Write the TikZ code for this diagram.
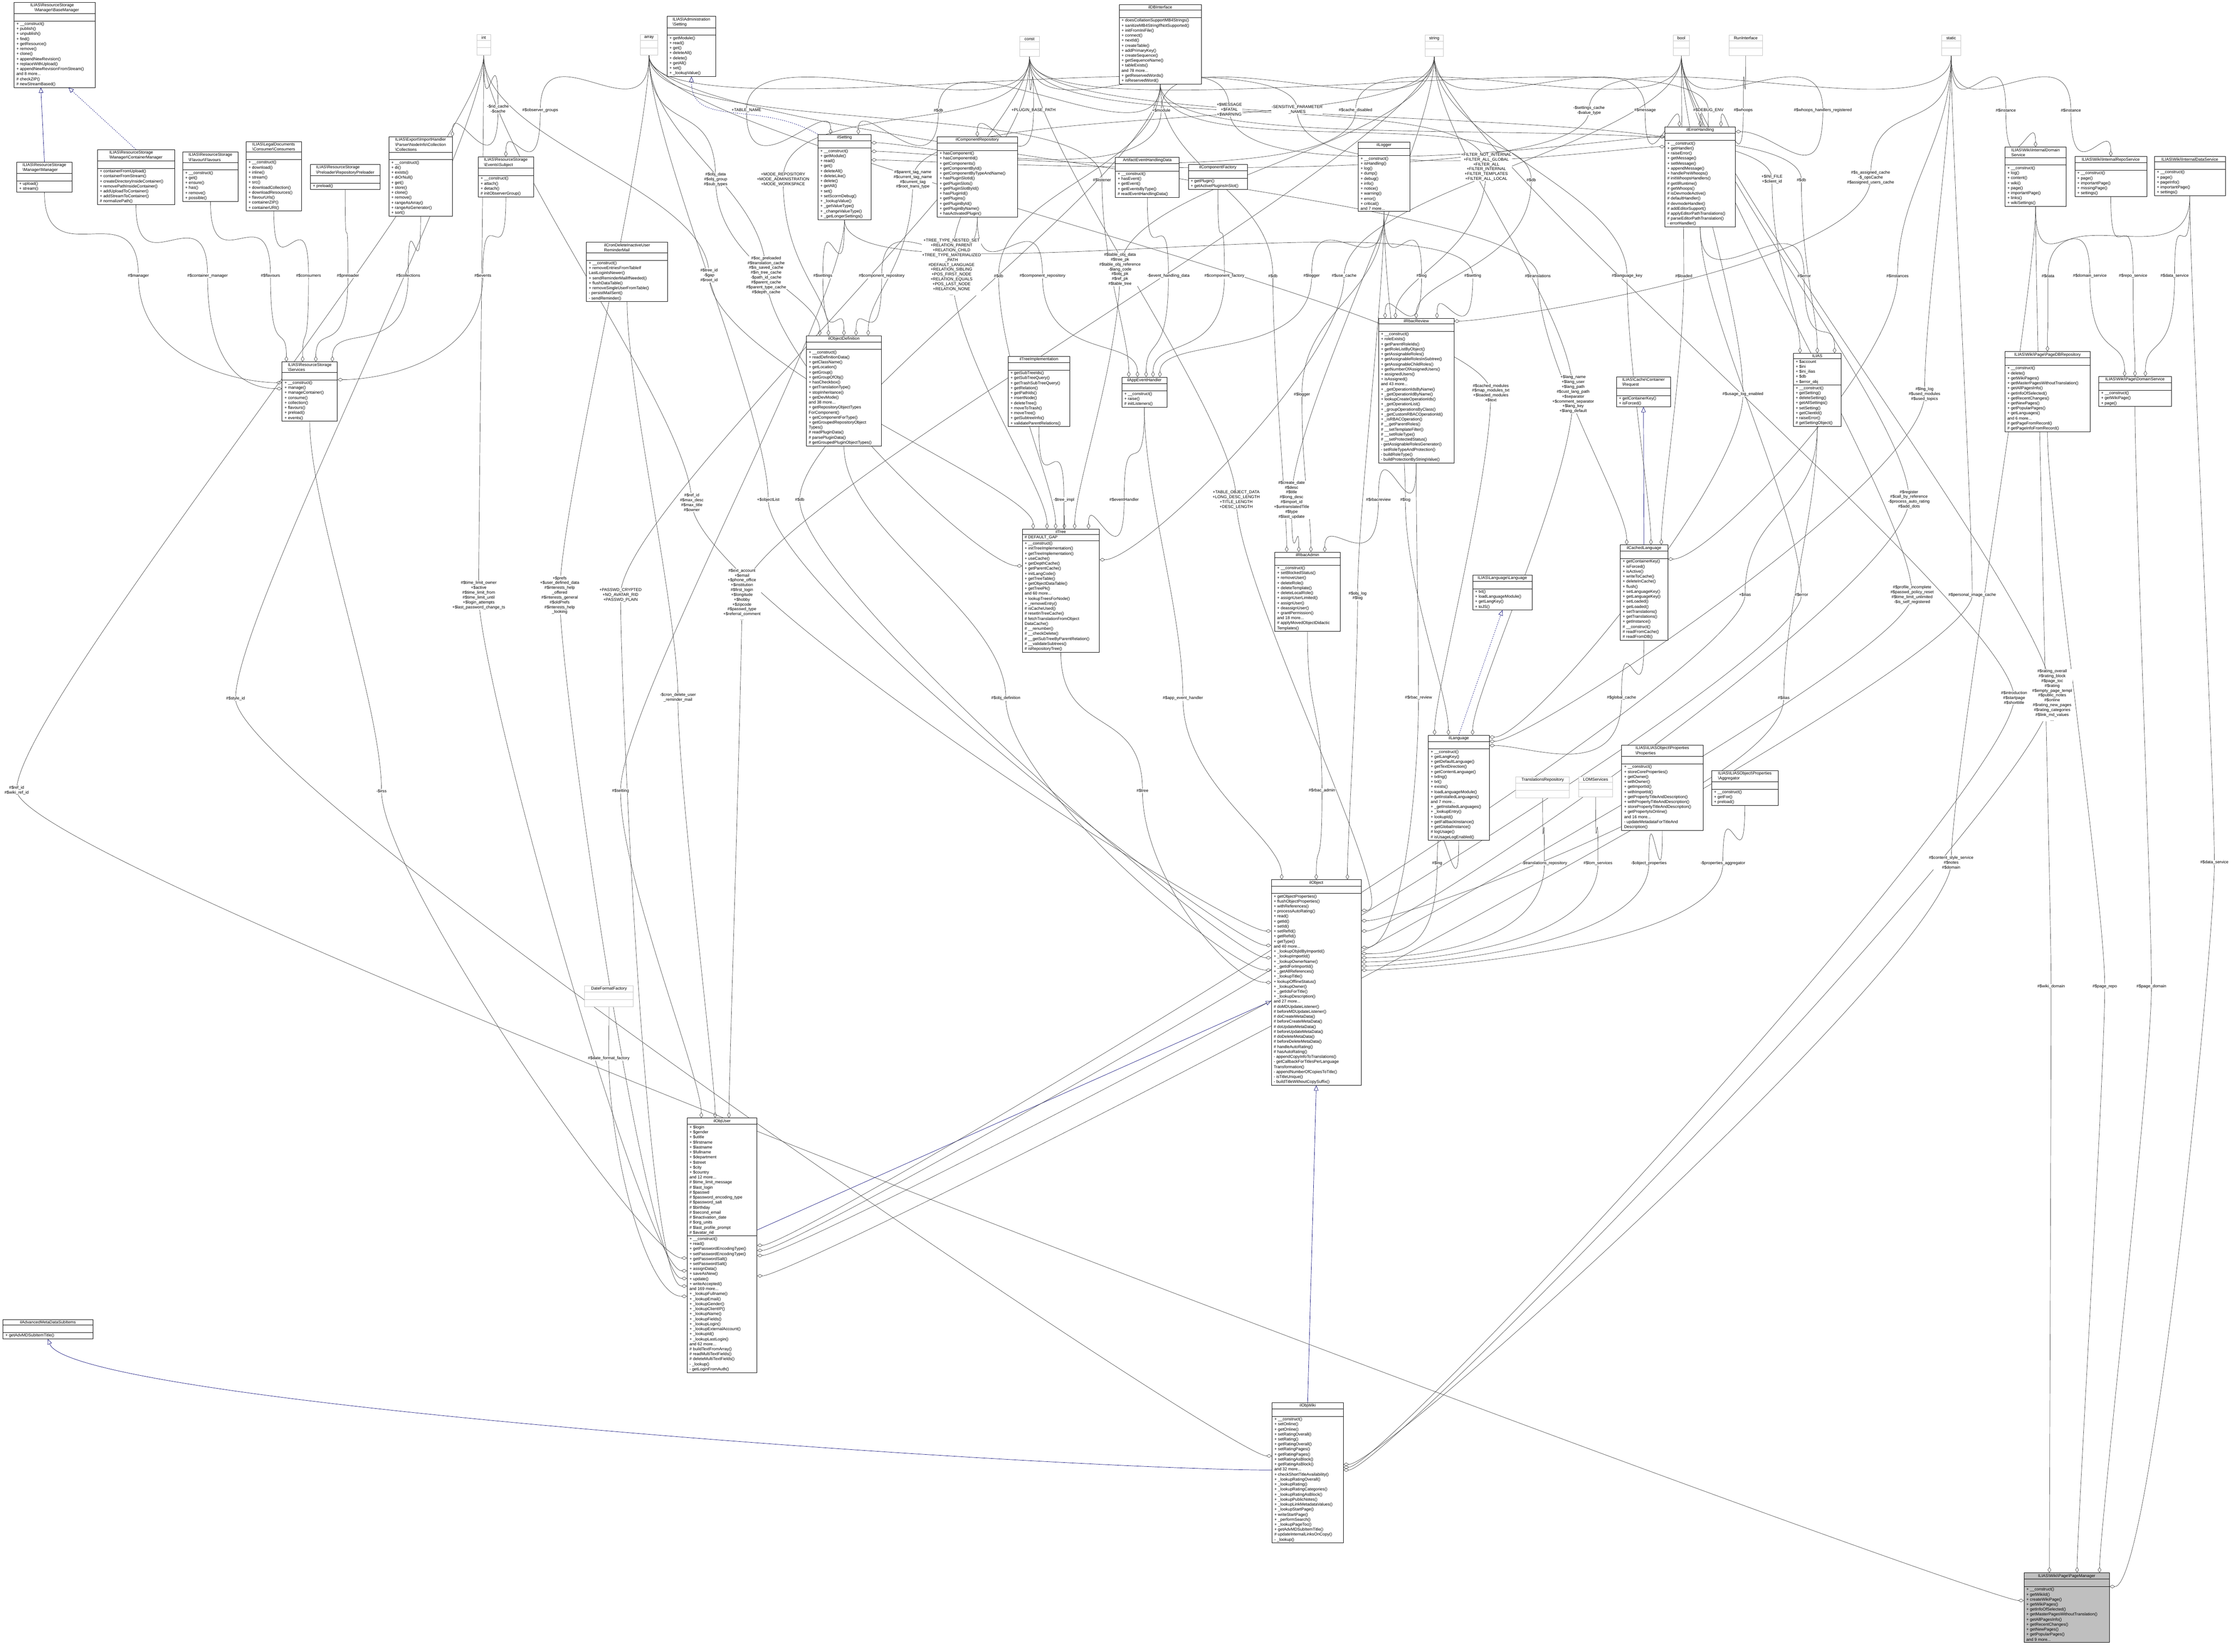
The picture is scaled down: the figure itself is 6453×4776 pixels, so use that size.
\documentclass[tikz,border=0pt]{standalone}
\usepackage{fontspec}
\setmainfont{Liberation Sans}
\usetikzlibrary{shapes.multipart,arrows.meta,calc}
\pgfdeclarelayer{bgfill}\pgfdeclarelayer{bg}\pgfsetlayers{bgfill,bg,main}
\newcommand\bs{\textbackslash}
\newcommand\E{\strut}
\tikzset{
 cls/.style={rectangle split,rectangle split parts=3,draw=black,line width=1pt,fill=white,
  font=\fontsize{12}{14.5}\selectfont,align=left,anchor=north west,inner xsep=7pt,inner ysep=3pt,
  rectangle split part align={center,left,left}},
 typ/.style={cls,draw=gray!45},
 gray box/.style={cls,fill=gray!50},
 agg/.style={draw=black!75,line width=0.9pt,-{Diamond[open,length=16pt,width=10pt,line width=0.9pt]}},
 inh/.style={draw=blue!45!black,line width=0.9pt,-{Triangle[open,length=15pt,width=13pt,line width=0.9pt]}},
 lbl/.style={font=\fontsize{12}{14}\selectfont,align=center,fill=white,inner sep=1pt}
}
\newcommand\cls[8][cls]{\node[#1,minimum width=#5pt] (#2) at (#3,#4) {#6\nodepart{second}#7\nodepart{third}#8};}
\newcommand\ag[5][90]{\begin{pgfonlayer}{bg}\draw[agg] (#2) .. controls +(-90:250pt) and +(90:250pt) .. (#4) .. controls +(-90:250pt) and +(#1:120pt) .. (#3);\end{pgfonlayer}\node[lbl] at (#4) {#5};}
\begin{document}
\begin{tikzpicture}[x=1pt,y=-1pt]
\begin{pgfonlayer}{bgfill}\fill[white] (0,0) rectangle (6453,4776);\end{pgfonlayer}
\useasboundingbox (0,0) rectangle (6453,4776);
% type boxes
\node[typ,minimum width=40pt] (int) at (1378,100) {int\nodepart{second}\E\nodepart{third}\E};
\node[typ,minimum width=50pt] (array) at (1851,100) {array\nodepart{second}\E\nodepart{third}\E};
\node[typ,minimum width=56pt] (const) at (2948,105) {const\nodepart{second}\E\nodepart{third}\E};
\node[typ,minimum width=52pt] (string) at (4120,101) {string\nodepart{second}\E\nodepart{third}\E};
\node[typ,minimum width=47pt] (bool) at (4837,101) {bool\nodepart{second}\E\nodepart{third}\E};
\node[typ,minimum width=97pt] (run) at (4998,101) {RunInterface\nodepart{second}\E\nodepart{third}\E};
\node[typ,minimum width=55pt] (static) at (5613,101) {static\nodepart{second}\E\nodepart{third}\E};
% classes
\cls{basemgr}{40}{6}{235}{ILIAS\bs ResourceStorage\\\quad\bs Manager\bs BaseManager}{\E}{+ \_\_construct()\\+ publish()\\+ unpublish()\\+ find()\\+ getResource()\\+ remove()\\+ clone()\\+ appendNewRevision()\\+ replaceWithUpload()\\+ appendNewRevisionFromStream()\\and 8 more...\\\# checkZIP()\\\# newStreamBased()}
\cls{mgr}{48}{468}{160}{ILIAS\bs ResourceStorage\\\bs Manager\bs Manager}{\E}{+ upload()\\+ stream()}
\cls{contmgr}{281}{432}{223}{ILIAS\bs ResourceStorage\\\bs Manager\bs ContainerManager}{\E}{+ containerFromUpload()\\+ containerFromStream()\\+ createDirectoryInsideContainer()\\+ removePathInsideContainer()\\+ addUploadToContainer()\\+ addStreamToContainer()\\\# normalizePath()}
\cls{flav}{528}{439}{160}{ILIAS\bs ResourceStorage\\\bs Flavour\bs Flavours}{\E}{+ \_\_construct()\\+ get()\\+ ensure()\\+ has()\\+ remove()\\+ possible()}
\cls{cons}{711}{409}{160}{ILIAS\bs LegalDocuments\\\bs Consumer\bs Consumers}{\E}{+ \_\_construct()\\+ download()\\+ inline()\\+ stream()\\+ src()\\+ downloadCollection()\\+ downloadResources()\\+ flavourUrls()\\+ containerZIP()\\+ containerURI()}
\cls{prel}{897}{475}{201}{ILIAS\bs ResourceStorage\\\bs Preloader\bs RepositoryPreloader}{\E}{+ preload()}
\cls{coll}{1124}{395}{183}{ILIAS\bs Export\bs ImportHandler\\\bs Parser\bs NodeInfo\bs Collection\\\bs Collections}{\E}{+ \_\_construct()\\+ di()\\+ exists()\\+ diOrNull()\\+ get()\\+ store()\\+ clone()\\+ remove()\\+ rangeAsArray()\\+ rangeAsGenerator()\\+ sort()}
\cls{subj}{1382}{453}{160}{ILIAS\bs ResourceStorage\\\bs Events\bs Subject}{\E}{+ \_\_construct()\\+ attach()\\+ detach()\\\# initObserverGroup()}
\cls{cron}{1695}{700}{235}{ilCronDeleteInactiveUser\\ReminderMail}{\E}{+ \_\_construct()\\+ removeEntriesFromTableIf\\LastLoginIsNewer()\\+ sendReminderMailIfNeeded()\\+ flushDataTable()\\+ removeSingleUserFromTable()\\- persistMailSent()\\- sendReminder()}
\cls{serv}{815}{1046}{160}{ILIAS\bs ResourceStorage\\\bs Services}{\E}{+ \_\_construct()\\+ manage()\\+ manageContainer()\\+ consume()\\+ collection()\\+ flavours()\\+ preload()\\+ events()}
\cls{admset}{1928}{47}{141}{ILIAS\bs Administration\\\bs Setting}{\E}{+ getModule()\\+ read()\\+ get()\\+ deleteAll()\\+ delete()\\+ getAll()\\+ set()\\+ \_lookupValue()}
\cls{ilset}{2364}{388}{154}{ilSetting}{\E}{+ \_\_construct()\\+ getModule()\\+ read()\\+ get()\\+ deleteAll()\\+ deleteLike()\\+ delete()\\+ getAll()\\+ set()\\+ setScormDebug()\\+ \_lookupValue()\\+ \_getValueType()\\+ \_changeValueType()\\+ \_getLongerSettings()}
\cls{comprepo}{2709}{395}{232}{ilComponentRepository}{\E}{+ hasComponent()\\+ hasComponentId()\\+ getComponents()\\+ getComponentById()\\+ getComponentByTypeAndName()\\+ hasPluginSlotId()\\+ getPluginSlots()\\+ getPluginSlotById()\\+ hasPluginId()\\+ getPlugins()\\+ getPluginById()\\+ getPluginByName()\\+ hasActivatedPlugin()}
\cls{aehd}{3224}{454}{185}{ArtifactEventHandlingData}{\E}{+ \_\_construct()\\+ hasEvent()\\+ getEvent()\\+ getEventsByType()\\\# readEventHandlingData()}
\cls{compfac}{3435}{475}{171}{ilComponentFactory}{\E}{+ getPlugin()\\+ getActivePluginsInSlot()}
\cls{logger}{3926}{410}{150}{ilLogger}{\E}{+ \_\_construct()\\+ isHandling()\\+ log()\\+ dump()\\+ debug()\\+ info()\\+ notice()\\+ warning()\\+ error()\\+ critical()\\and 7 more...}
\cls{dbi}{3235}{13}{238}{ilDBInterface}{\E}{+ doesCollationSupportMB4Strings()\\+ sanitizeMB4StringIfNotSupported()\\+ initFromIniFile()\\+ connect()\\+ nextId()\\+ createTable()\\+ addPrimaryKey()\\+ createSequence()\\+ getSequenceName()\\+ tableExists()\\and 78 more...\\+ getReservedWords()\\+ isReservedWord()}
\cls{err}{4813}{366}{204}{ilErrorHandling}{\E}{+ \_\_construct()\\+ getHandler()\\+ raiseError()\\+ getMessage()\\+ setMessage()\\+ appendMessage()\\+ handlePreWhoops()\\\# initWhoopsHandlers()\\\# getIlRuntime()\\\# getWhoops()\\\# isDevmodeActive()\\\# defaultHandler()\\\# devmodeHandler()\\\# addEditorSupport()\\\# applyEditorPathTranslations()\\\# parseEditorPathTranslation()\\- errorHandler()}
\cls{ids}{5796}{425}{177}{ILIAS\bs Wiki\bs InternalDomain\\Service}{\E}{+ \_\_construct()\\+ log()\\+ content()\\+ wiki()\\+ page()\\+ importantPage()\\+ links()\\+ wikiSettings()}
\cls{irs}{5998}{452}{208}{ILIAS\bs Wiki\bs InternalRepoService}{\E}{+ \_\_construct()\\+ page()\\+ importantPage()\\+ missingPage()\\+ settings()}
\cls{idats}{6228}{452}{205}{ILIAS\bs Wiki\bs InternalDataService}{\E}{+ \_\_construct()\\+ page()\\+ pageInfo()\\+ importantPage()\\+ settings()}
\cls{objdef}{2331}{970}{217}{ilObjectDefinition}{\E}{+ \_\_construct()\\+ readDefinitionData()\\+ getClassName()\\+ getLocation()\\+ getGroup()\\+ getGroupOfObj()\\+ hasCheckbox()\\+ getTranslationType()\\+ stopInheritance()\\+ getDevMode()\\and 38 more...\\+ getRepositoryObjectTypes\\ForComponent()\\+ getComponentForType()\\+ getGroupedRepositoryObject\\Types()\\\# readPluginData()\\\# parsePluginData()\\\# getGroupedPluginObjectTypes()}
\cls{treeimpl}{2914}{1030}{178}{ilTreeImplementation}{\E}{+ getSubTreeIds()\\+ getSubTreeQuery()\\+ getTrashSubTreeQuery()\\+ getRelation()\\+ getPathIds()\\+ insertNode()\\+ deleteTree()\\+ moveToTrash()\\+ moveTree()\\+ getSubtreeInfo()\\+ validateParentRelations()}
\cls{appev}{3243}{1090}{130}{ilAppEventHandler}{\E}{+ \_\_construct()\\+ raise()\\\# initListeners()}
\cls{rbacrev}{3985}{920}{218}{ilRbacReview}{\E}{+ \_\_construct()\\+ roleExists()\\+ getParentRoleIds()\\+ getRoleListByObject()\\+ getAssignableRoles()\\+ getAssignableRolesInSubtree()\\+ getAssignableChildRoles()\\+ getNumberOfAssignedUsers()\\+ assignedUsers()\\+ isAssigned()\\and 43 more...\\+ \_getOperationIdsByName()\\+ \_getOperationIdByName()\\+ lookupCreateOperationIds()\\+ \_getOperationList()\\+ \_groupOperationsByClass()\\+ \_getCustomRBACOperationId()\\+ \_isRBACOperation()\\\# \_\_getParentRoles()\\\# \_\_setTemplateFilter()\\\# \_\_setRoleType()\\\# \_\_setProtectedStatus()\\- getAssignableRolesGenerator()\\- setRoleTypeAndProtection()\\- buildRoleType()\\- buildProtectionByStringValue()}
\cls{ilias}{5184}{1021}{139}{ILIAS}{+ \$account\\+ \$ini\\+ \$ini\_ilias\\+ \$db\\+ \$error\_obj}{+ \_\_construct()\\+ getSetting()\\+ deleteSetting()\\+ getAllSettings()\\+ setSetting()\\+ getClientId()\\+ raiseError()\\\# getSettingObject()}
\cls{req}{4673}{1089}{156}{ILIAS\bs Cache\bs Container\\\bs Request}{\E}{+ getContainerKey()\\+ isForced()}
\cls{pdbr}{5796}{1016}{246}{ILIAS\bs Wiki\bs Page\bs PageDBRepository}{\E}{+ \_\_construct()\\+ delete()\\+ getWikiPages()\\+ getMasterPagesWithoutTranslation()\\+ getAllPagesInfo()\\+ getInfoOfSelected()\\+ getRecentChanges()\\+ getNewPages()\\+ getPopularPages()\\+ getLanguages()\\and 6 more...\\\# getPageFromRecord()\\\# getPageInfoFromRecord()}
\cls{pds}{6067}{1088}{210}{ILIAS\bs Wiki\bs Page\bs DomainService}{\E}{+ \_\_construct()\\+ getWikiPage()\\+ page()}
\cls{tree}{2955}{1529}{223}{ilTree}{\# DEFAULT\_GAP}{+ \_\_construct()\\+ initTreeImplementation()\\+ getTreeImplementation()\\+ useCache()\\+ getDepthCache()\\+ getParentCache()\\+ initLangCode()\\+ getTreeTable()\\+ getObjectDataTable()\\+ getTreePk()\\and 60 more...\\+ lookupTreesForNode()\\+ \_removeEntry()\\\# isCacheUsed()\\\# resetInTreeCache()\\\# fetchTranslationFromObject\\DataCache()\\\# \_\_renumber()\\\# \_\_checkDelete()\\\# \_\_getSubTreeByParentRelation()\\\# \_\_validateSubtrees()\\\# isRepositoryTree()}
\cls{rbacadm}{3685}{1596}{189}{ilRbacAdmin}{\E}{+ \_\_construct()\\+ setBlockedStatus()\\+ removeUser()\\+ deleteRole()\\+ deleteTemplate()\\+ deleteLocalRole()\\+ assignUserLimited()\\+ assignUser()\\+ deassignUser()\\+ grantPermission()\\and 18 more...\\\# applyMovedObjectDidactic\\Templates()}
\cls{langif}{4257}{1662}{172}{ILIAS\bs Language\bs Language}{\E}{+ txt()\\+ loadLanguageModule()\\+ getLangKey()\\+ toJS()}
\cls{cachedlang}{4684}{1575}{137}{ilCachedLanguage}{\E}{+ getContainerKey()\\+ isForced()\\+ isActive()\\+ writeToCache()\\+ deleteInCache()\\+ flush()\\+ setLanguageKey()\\+ getLanguageKey()\\+ setLoaded()\\+ getLoaded()\\+ setTranslations()\\+ getTranslations()\\+ getInstance()\\\# \_\_construct()\\\# readFromCache()\\\# readFromDB()}
\cls{lang}{4129}{2125}{176}{ilLanguage}{\E}{+ \_\_construct()\\+ getLangKey()\\+ getDefaultLanguage()\\+ getTextDirection()\\+ getContentLanguage()\\+ txtlng()\\+ txt()\\+ exists()\\+ loadLanguageModule()\\+ getInstalledLanguages()\\and 7 more...\\+ \_getInstalledLanguages()\\+ \_lookupEntry()\\+ lookupId()\\+ getFallbackInstance()\\+ getGlobalInstance()\\\# logUsage()\\\# isUsageLogEnabled()}
\node[typ,minimum width=155pt] (trrepo) at (4382,2245) {TranslationsRepository\nodepart{second}\E\nodepart{third}\E};
\node[typ,minimum width=99pt] (lom) at (4563,2245) {LOMServices\nodepart{second}\E\nodepart{third}\E};
\cls{props}{4688}{2154}{235}{ILIAS\bs ILIASObject\bs Properties\\\bs Properties}{\E}{+ \_\_construct()\\+ storeCoreProperties()\\+ getOwner()\\+ withOwner()\\+ getImportId()\\+ withImportId()\\+ getPropertyTitleAndDescription()\\+ withPropertyTitleAndDescription()\\+ storePropertyTitleAndDescription()\\+ getPropertyIsOnline()\\and 16 more...\\- updateMetadataForTitleAnd\\Description()}
\cls{aggr}{4948}{2227}{192}{ILIAS\bs ILIASObject\bs Properties\\\bs Aggregator}{\E}{+ \_\_construct()\\+ getFor()\\+ preload()}
\cls{obj}{3675}{2543}{260}{ilObject}{\E}{+ getObjectProperties()\\+ flushObjectProperties()\\+ withReferences()\\+ processAutoRating()\\+ read()\\+ getId()\\+ setId()\\+ setRefId()\\+ getRefId()\\+ getType()\\and 40 more...\\+ \_lookupObjIdByImportId()\\+ \_lookupImportId()\\+ \_lookupOwnerName()\\+ \_getIdForImportId()\\+ \_getAllReferences()\\+ \_lookupTitle()\\+ lookupOfflineStatus()\\+ \_lookupOwner()\\+ \_getIdsForTitle()\\+ \_lookupDescription()\\and 27 more...\\\# doMDUpdateListener()\\\# beforeMDUpdateListener()\\\# doCreateMetaData()\\\# beforeCreateMetaData()\\\# doUpdateMetaData()\\\# beforeUpdateMetaData()\\\# doDeleteMetaData()\\\# beforeDeleteMetaData()\\\# handleAutoRating()\\\# hasAutoRating()\\- appendCopyInfoToTranslations()\\- getCallbackForTitlesPerLanguage\\Transformation()\\- appendNumberOfCopiesToTitle()\\- isTitleUnique()\\- buildTitleWithoutCopySuffix()}
\node[typ,minimum width=140pt] (dff) at (1690,2850) {DateFormatFactory\nodepart{second}\E\nodepart{third}\E};
\cls{user}{1986}{3232}{202}{ilObjUser}{+ \$login\\+ \$gender\\+ \$utitle\\+ \$firstname\\+ \$lastname\\+ \$fullname\\+ \$department\\+ \$street\\+ \$city\\+ \$country\\and 12 more...\\\# \$time\_limit\_message\\\# \$last\_login\\\# \$passwd\\\# \$password\_encoding\_type\\\# \$password\_salt\\\# \$birthday\\\# \$second\_email\\\# \$inactivation\_date\\\# \$org\_units\\\# \$last\_profile\_prompt\\\# \$avatar\_rid}{+ \_\_construct()\\+ read()\\+ getPasswordEncodingType()\\+ setPasswordEncodingType()\\+ getPasswordSalt()\\+ setPasswordSalt()\\+ assignData()\\+ saveAsNew()\\+ update()\\+ writeAccepted()\\and 169 more...\\+ \_lookupFullname()\\+ \_lookupEmail()\\+ \_lookupGender()\\+ \_lookupClientIP()\\+ \_lookupName()\\+ \_lookupFields()\\+ \_lookupLogin()\\+ \_lookupExternalAccount()\\+ \_lookupId()\\+ \_lookupLastLogin()\\and 62 more...\\\# buildTextFromArray()\\\# readMultiTextFields()\\\# deleteMultiTextFields()\\- \_lookup()\\- getLoginFromAuth()}
\cls{advmd}{8}{3815}{260}{ilAdvancedMetaDataSubItems}{\E}{+ getAdvMDSubItemTitle()}
\cls{wiki}{3677}{4055}{206}{ilObjWiki}{\E}{+ \_\_construct()\\+ setOnline()\\+ getOnline()\\+ setRatingOverall()\\+ setRating()\\+ getRatingOverall()\\+ setRatingPages()\\+ getRatingPages()\\+ setRatingAsBlock()\\+ getRatingAsBlock()\\and 32 more...\\+ checkShortTitleAvailability()\\+ \_lookupRatingOverall()\\+ \_lookupRating()\\+ \_lookupRatingCategories()\\+ \_lookupRatingAsBlock()\\+ \_lookupPublicNotes()\\+ \_lookupLinkMetadataValues()\\+ \_lookupStartPage()\\+ writeStartPage()\\+ \_performSearch()\\+ \_lookupPageToc()\\+ getAdvMDSubItemTitle()\\\# updateInternalLinksOnCopy()\\- \_lookup()}
\cls[gray box]{pm}{5851}{4547}{247}{ILIAS\bs Wiki\bs Page\bs PageManager}{\E}{+ \_\_construct()\\+ getWikiId()\\+ createWikiPage()\\+ getWikiPages()\\+ getInfoOfSelected()\\+ getMasterPagesWithoutTranslation()\\+ getAllPagesInfo()\\+ getRecentChanges()\\+ getNewPages()\\+ getPopularPages()\\and 9 more...}
% inheritance
\begin{pgfonlayer}{bg}
\draw[inh] (mgr.north) -- ($(basemgr.south)+(-40,0)$);
\draw[inh,dashed] (contmgr.north) -- ($(basemgr.south)+(40,0)$);
\draw[inh,dashed] (ilset.north west) .. controls +(150:200pt) and +(-90:150pt) .. (admset.south);
\draw[inh,dashed] (lang.north) -- (langif.south);
\draw[inh] (cachedlang.north) -- (req.south);
\draw[inh] ($(user.north east)!0.44!(user.south east)$) -- ($(obj.north west)!0.59!(obj.south west)$);
\draw[inh] (wiki.north) -- (obj.south);
\draw[inh] ($(wiki.north west)!0.48!(wiki.south west)$) .. controls +(180:600pt) and +(-70:200pt) .. (advmd.south);
\end{pgfonlayer}
% resource storage
\ag[180]{mgr.south}{$(serv.north west)!0.35!(serv.south west)$}{400,797}{\#\$manager}
\ag[180]{contmgr.south}{$(serv.north west)!0.45!(serv.south west)$}{600,797}{\#\$container\_manager}
\ag{flav.south}{$(serv.north west)+(13,0)$}{782,797}{\#\$flavours}
\ag{cons.south}{$(serv.north west)+(60,0)$}{892,797}{\#\$consumers}
\ag{prel.south}{$(serv.north west)+(98,0)$}{1006,797}{\#\$preloader}
\ag{coll.south}{$(serv.north west)+(146,0)$}{1180,797}{\#\$collections}
\ag[0]{subj.south}{$(serv.north east)!0.3!(serv.south east)$}{1396,797}{\#\$events}
\ag{int.south}{coll.north east}{1440,315}{-\$rid\_cache\\-\$cache}
\ag{array.south}{subj.north}{1562,319}{\#\$observer\_groups}
% ilSetting etc
\ag{const.south}{$(ilset.north)+(-40,0)$}{2158,319}{+TABLE\_NAME}
\ag{dbi.south}{$(ilset.north)+(40,0)$}{2713,319}{\#\$db}
\ag[0]{string.south}{$(ilset.north east)!0.1!(ilset.south east)$}{3357,319}{+\$module}
\ag[0]{bool.south}{$(ilset.north east)!0.2!(ilset.south east)$}{3919,319}{\#\$cache\_disabled}
\ag[0]{static.south}{$(ilset.north east)!0.3!(ilset.south east)$}{4594,319}{-\$settings\_cache\\-\$value\_type}
\ag{const.south}{comprepo.north}{2988,319}{+PLUGIN\_BASE\_PATH}
% error handling
\ag[180]{const.south}{$(err.north west)!0.1!(err.south west)$}{3554,317}{+\$MESSAGE\\+\$FATAL\\+\$WARNING}
\ag[180]{array.south}{$(err.north west)!0.2!(err.south west)$}{3750,317}{-SENSITIVE\_PARAMETER\\\_NAMES}
\ag{string.south}{$(err.north)+(-60,0)$}{4756,319}{\#\$message}
\ag{const.south}{$(err.north)+(0,0)$}{4939,319}{\#\$DEBUG\_ENV}
\ag{run.south}{$(err.north)+(60,0)$}{5040,319}{\#\$whoops}
\ag[0]{bool.south}{$(err.north east)!0.05!(err.south east)$}{5270,319}{\#\$whoops\_handlers\_registered}
% ILIAS
\ag{const.south}{$(ilias.north)+(-50,0)$}{5123,518}{+\$INI\_FILE\\+\$client\_id}
\ag{dbi.south}{$(ilias.north)+(0,0)$}{5208,521}{\#\$db}
\ag{err.south}{$(ilias.north)+(50,0)$}{5216,798}{\#\$error}
% wiki services
\ag{static.south}{ids.north}{5799,319}{\#\$instance}
\ag{static.south}{irs.north}{5987,319}{\#\$instance}
\ag{idats.south}{pdbr.north}{5921,798}{\#\$data}
\ag{ids.south}{$(pds.north)+(-30,0)$}{6042,798}{\#\$domain\_service}
\ag{irs.south}{$(pds.north)+(0,0)$}{6167,798}{\#\$repo\_service}
\ag{idats.south}{$(pds.north)+(30,0)$}{6287,798}{\#\$data\_service}
% rbac review
\ag{const.south}{$(rbacrev.north)+(-60,0)$}{4297,483}{+FILTER\_NOT\_INTERNAL\\+FILTER\_ALL\_GLOBAL\\+FILTER\_ALL\\+FILTER\_INTERNAL\\+FILTER\_TEMPLATES\\+FILTER\_ALL\_LOCAL}
\ag{dbi.south}{$(rbacrev.north)+(0,0)$}{4427,521}{\#\$db}
\ag{logger.south}{$(rbacrev.north)+(-90,0)$}{4110,798}{\#\$log}
\ag{ilset.south}{$(rbacrev.north)+(60,0)$}{4258,798}{\#\$setting}
\ag[0]{static.south}{$(rbacrev.north east)!0.02!(rbacrev.south east)$}{5408,514}{\#\$s\_assigned\_cache\\-\$\_opsCache\\\#\$assigned\_users\_cache}
% cached language
\ag{array.south}{$(cachedlang.north)+(-50,0)$}{4446,798}{\#\$translations}
\ag{string.south}{$(cachedlang.north)+(20,0)$}{4704,798}{\#\$language\_key}
\ag{bool.south}{$(cachedlang.north)+(50,0)$}{4868,798}{\#\$loaded}
\ag[0]{static.south}{$(cachedlang.north east)!0.15!(cachedlang.south east)$}{5486,798}{\#\$instances}
% ilLanguage
\ag{array.south}{$(lang.north)+(-70,0)$}{4310,1136}{\#\$cached\_modules\\\#\$map\_modules\_txt\\+\$loaded\_modules\\+\$text}
\ag{string.south}{$(lang.north)+(40,0)$}{4548,1140}{+\$lang\_name\\+\$lang\_user\\+\$lang\_path\\\#\$cust\_lang\_path\\+\$separator\\+\$comment\_separator\\+\$lang\_key\\+\$lang\_default}
\ag{logger.south}{$(lang.north)+(-30,0)$}{4063,1445}{\#\$log}
\ag[0]{bool.south}{$(lang.north east)!0.02!(lang.south east)$}{5039,1140}{\#\$usage\_log\_enabled}
\ag[0]{static.south}{$(lang.north east)!0.06!(lang.south east)$}{5564,1140}{\#\$lng\_log\\\#\$used\_modules\\\#\$used\_topics}
\ag[0]{cachedlang.south}{$(lang.north east)!0.1!(lang.south east)$}{4688,2017}{\#\$global\_cache}
% object definition
\ag{array.south}{$(objdef.north)+(-70,0)$}{2069,519}{\#\$obj\_data\\\#\$obj\_group\\\#\$sub\_types}
\ag{const.south}{$(objdef.north)+(-45,0)$}{2264,519}{+MODE\_REPOSITORY\\+MODE\_ADMINISTRATION\\+MODE\_WORKSPACE}
\ag{string.south}{$(objdef.north)+(70,0)$}{2639,519}{\#\$parent\_tag\_name\\\#\$current\_tag\_name\\\#\$current\_tag\\\#\$root\_trans\_type}
\ag{ilset.south}{$(objdef.north)+(0,0)$}{2379,798}{\#\$settings}
\ag{comprepo.south}{$(objdef.north)+(35,0)$}{2549,798}{\#\$component\_repository}
% app event handler
\ag{array.south}{$(appev.north)+(-45,0)$}{3186,520}{\#\$listener}
\ag{comprepo.south}{$(appev.north)+(-20,0)$}{3014,798}{\#\$component\_repository}
\ag{aehd.south}{$(appev.north)+(5,0)$}{3378,798}{-\$event\_handling\_data}
\ag{compfac.south}{$(appev.north)+(25,0)$}{3540,798}{\#\$component\_factory}
\ag{logger.south}{$(appev.north)+(45,0)$}{3792,798}{\#\$logger}
% tree
\ag{int.south}{$(tree.north)+(-80,0)$}{2050,796}{\#\$tree\_id\\-\$gap\\\#\$root\_id}
\ag[180]{array.south}{$(tree.north west)!0.3!(tree.south west)$}{2215,796}{\#\$oc\_preloaded\\\#\$translation\_cache\\\#\$is\_saved\_cache\\\#\$in\_tree\_cache\\-\$path\_id\_cache\\\#\$parent\_cache\\\#\$parent\_type\_cache\\\#\$depth\_cache}
\ag{const.south}{$(tree.north)+(-40,0)$}{2751,772}{+TREE\_TYPE\_NESTED\_SET\\+RELATION\_PARENT\\+RELATION\_CHILD\\+TREE\_TYPE\_MATERIALIZED\\\_PATH\\\#DEFAULT\_LANGUAGE\\+RELATION\_SIBLING\\+POS\_FIRST\_NODE\\+RELATION\_EQUALS\\+POS\_LAST\_NODE\\+RELATION\_NONE\\...}
\ag{dbi.south}{$(tree.north)+(-15,0)$}{2887,798}{\#\$db}
\ag{treeimpl.south}{$(tree.north)+(10,0)$}{3076,1445}{-\$tree\_impl}
\ag{string.south}{$(tree.north)+(40,0)$}{3238,779}{\#\$table\_obj\_data\\\#\$tree\_pk\\\#\$table\_obj\_reference\\-\$lang\_code\\\#\$obj\_pk\\\#\$ref\_pk\\\#\$table\_tree}
\ag{appev.south}{$(tree.north)+(80,0)$}{3250,1445}{\#\$eventHandler}
\ag[0]{bool.south}{$(tree.north east)!0.25!(tree.south east)$}{3886,798}{\#\$use\_cache}
% rbac admin
\ag{dbi.south}{$(rbacadm.north)+(-60,0)$}{3680,798}{\#\$db}
\ag{string.south}{$(rbacadm.north)+(-25,0)$}{3734,1445}{\#\$create\_date\\\#\$desc\\\#\$title\\\#\$long\_desc\\\#\$import\_id\\+\$untranslatedTitle\\\#\$type\\\#\$last\_update}
\ag{logger.south}{$(rbacadm.north)+(10,0)$}{3764,1141}{\#\$logger}
\ag{rbacrev.south}{$(rbacadm.north)+(50,0)$}{3985,1445}{\#\$rbacreview}
% ilObject
\ag[180]{int.south}{$(obj.north west)!0.25!(obj.south west)$}{2000,1453}{\#\$ref\_id\\\#\$max\_desc\\\#\$max\_title\\\#\$owner}
\ag[180]{array.south}{$(obj.north west)!0.32!(obj.south west)$}{2221,1445}{+\$objectList}
\ag[180]{dbi.south}{$(obj.north west)!0.38!(obj.south west)$}{2312,1445}{\#\$db}
\ag[180]{objdef.south}{$(obj.north west)!0.44!(obj.south west)$}{2908,2019}{\#\$obj\_definition}
\ag[180]{tree.south}{$(obj.north west)!0.5!(obj.south west)$}{3303,2286}{\#\$tree}
\ag{appev.south}{$(obj.north)+(-100,0)$}{3420,2019}{\#\$app\_event\_handler}
\ag{rbacadm.south}{$(obj.north)+(0,0)$}{3822,2286}{\#\$rbac\_admin}
\ag{logger.south}{$(obj.north)+(90,0)$}{3925,1723}{\#\$obj\_log\\\#\$log}
\ag[0]{const.south}{$(obj.north east)!0.15!(obj.south east)$}{3574,1445}{+TABLE\_OBJECT\_DATA\\+LONG\_DESC\_LENGTH\\+TITLE\_LENGTH\\+DESC\_LENGTH}
\ag[0]{rbacrev.south}{$(obj.north east)!0.33!(obj.south east)$}{4101,2017}{\#\$rbac\_review}
\ag[0]{lang.south}{$(obj.north east)!0.36!(obj.south east)$}{4155,2496}{\#\$lng}
\ag[0]{trrepo.south}{$(obj.north east)!0.38!(obj.south east)$}{4465,2496}{-\$translations\_repository}
\ag[0]{lom.south}{$(obj.north east)!0.40!(obj.south east)$}{4620,2496}{\#\$lom\_services}
\ag[0]{props.south}{$(obj.north east)!0.42!(obj.south east)$}{4767,2496}{-\$object\_properties}
\ag[0]{aggr.south}{$(obj.north east)!0.44!(obj.south east)$}{4981,2496}{-\$properties\_aggregator}
\ag[0]{ilias.south}{$(obj.north east)!0.2!(obj.south east)$}{5157,2018}{\#\$ilias}
\ag[0]{bool.south}{$(obj.north east)!0.25!(obj.south east)$}{5519,1444}{\#\$register\\\#\$call\_by\_reference\\-\$process\_auto\_rating\\\#\$add\_dots}
% ilObjUser
\ag[180]{serv.south}{$(user.north west)!0.55!(user.south west)$}{1103,2287}{-\$irss}
\ag[180]{int.south}{$(user.north west)!0.6!(user.south west)$}{1384,1721}{\#\$time\_limit\_owner\\+\$active\\\#\$time\_limit\_from\\\#\$time\_limit\_until\\+\$login\_attempts\\+\$last\_password\_change\_ts}
\ag[180]{array.south}{$(user.north west)!0.63!(user.south west)$}{1618,1721}{+\$prefs\\+\$user\_defined\_data\\\#\$interests\_help\\\_offered\\\#\$interests\_general\\\#\$oldPrefs\\\#\$interests\_help\\\_looking}
\ag[180]{const.south}{$(user.north west)!0.66!(user.south west)$}{1794,1721}{+PASSWD\_CRYPTED\\+NO\_AVATAR\_RID\\+PASSWD\_PLAIN}
\ag[180]{dff.south}{$(user.north west)!0.7!(user.south west)$}{1760,3060}{\#\$date\_format\_factory}
\ag{ilset.south}{$(user.north)+(-60,0)$}{1794,2287}{\#\$setting}
\ag{cron.south}{$(user.north)+(-20,0)$}{1960,2017}{-\$cron\_delete\_user\\\_reminder\_mail}
\ag{string.south}{$(user.north)+(20,0)$}{2145,1719}{\#\$ext\_account\\+\$email\\+\$phone\_office\\+\$institution\\\#\$first\_login\\+\$longitude\\+\$hobby\\+\$zipcode\\\#\$passwd\_type\\+\$referral\_comment\\...}
\ag[0]{ilias.south}{$(user.north east)!0.5!(user.south east)$}{5045,1720}{+\$ilias}
\ag[0]{err.south}{$(user.north east)!0.52!(user.south east)$}{5208,1720}{\#\$error}
\ag[0]{bool.south}{$(user.north east)!0.54!(user.south east)$}{5528,1720}{\#\$profile\_incomplete\\\#\$passwd\_policy\_reset\\\#\$time\_limit\_unlimited\\-\$is\_self\_registered}
\ag[0]{static.south}{$(user.north east)!0.62!(user.south east)$}{5702,1720}{\#\$personal\_image\_cache}
% ilObjWiki
\ag[180]{int.south}{$(wiki.north west)!0.38!(wiki.south west)$}{681,2020}{\#\$style\_id}
\ag[0]{ids.south}{$(wiki.north east)!0.44!(wiki.south east)$}{5641,2494}{\#\$content\_style\_service\\\#\$notes\\\#\$domain}
\ag[0]{string.south}{$(wiki.north east)!0.46!(wiki.south east)$}{5823,2018}{\#\$introduction\\\#\$startpage\\\#\$shorttitle}
\ag[0]{bool.south}{$(wiki.north east)!0.48!(wiki.south east)$}{5933,2010}{\#\$rating\_overall\\\#\$rating\_block\\\#\$page\_toc\\\#\$rating\\\#\$empty\_page\_templ\\\#\$public\_notes\\\#\$online\\\#\$rating\_new\_pages\\\#\$rating\_categories\\\#\$link\_md\_values\\...}
% PageManager
\ag[180]{int.south}{$(pm.north west)!0.4!(pm.south west)$}{48,2285}{\#\$ref\_id\\\#\$wiki\_ref\_id}
\ag{ids.south}{$(pm.north)+(-50,0)$}{5930,2852}{\#\$wiki\_domain}
\ag{pdbr.south}{$(pm.north)+(30,0)$}{6085,2852}{\#\$page\_repo}
\ag{pds.south}{$(pm.north)+(95,0)$}{6220,2852}{\#\$page\_domain}
\ag[0]{idats.south}{$(pm.north east)!0.2!(pm.south east)$}{6402,2494}{\#\$data\_service}
\end{tikzpicture}
\end{document}
